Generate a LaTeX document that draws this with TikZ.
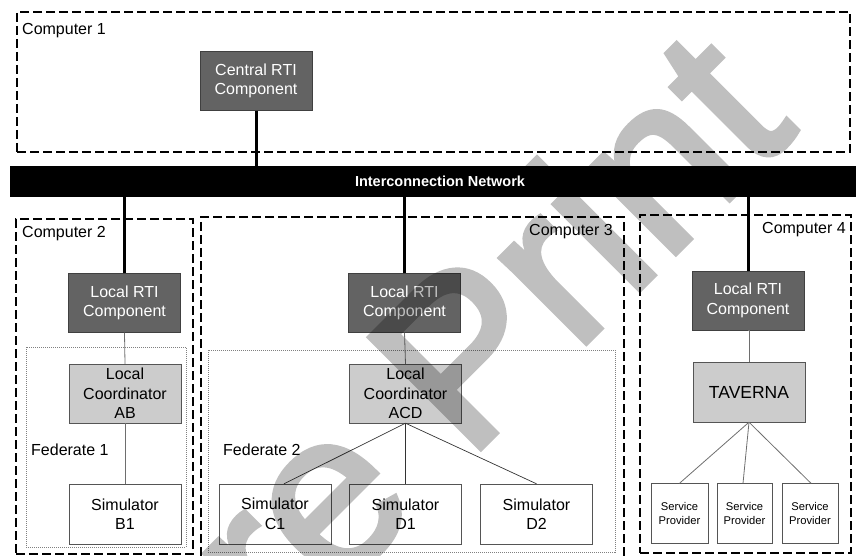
\documentclass[tikz,border=0pt]{standalone}
\usepackage{fontspec}
\setmainfont{Liberation Sans}
\newfontfamily\markfont[FakeBold=2.5]{Liberation Sans}
\definecolor{rtifill}{RGB}{99,99,99}
\definecolor{rtiedge}{RGB}{64,64,64}
\definecolor{coordfill}{RGB}{204,204,204}
\definecolor{boxedge}{RGB}{85,85,85}
\definecolor{linkgray}{RGB}{110,110,110}
\begin{document}
\begin{tikzpicture}[x=1pt,y=-1pt,
  computer/.style={draw, dash pattern=on 9pt off 4pt, line width=1.2pt, inner sep=0pt},
  federate/.style={draw=gray, dash pattern=on 1pt off 1pt, line width=0.9pt, inner sep=0pt},
  base/.style={align=center, inner sep=0pt, font=\fontsize{16}{19.5}\selectfont},
  rti/.style={base, draw=rtiedge, fill=rtifill, text=white, minimum width=112pt, minimum height=59pt},
  coord/.style={base, draw=boxedge, fill=coordfill, minimum width=112pt, minimum height=59pt},
  sim/.style={base, draw=boxedge, fill=white, minimum width=112pt, minimum height=60pt},
  svc/.style={base, draw=boxedge, fill=white, minimum width=56pt, minimum height=60pt, font=\fontsize{11.2}{14}\selectfont},
  lbl/.style={inner sep=0pt, font=\fontsize{16}{19}\selectfont},
  bus/.style={line width=3pt},
  link/.style={draw=linkgray, line width=0.8pt},
  thin/.style={draw=black!80, line width=0.7pt}]
\useasboundingbox (0,0) rectangle (856,556);

% computers
\node[computer, minimum width=833pt, minimum height=140pt] (pc1) at (433.5,82) {};
\node[computer, minimum width=177pt, minimum height=335pt] (pc2) at (104.5,386.5) {};
\node[computer, minimum width=423pt, minimum height=345pt] (pc3) at (412.5,389.5) {};
\node[computer, minimum width=211pt, minimum height=338pt] (pc4) at (745.5,384) {};
\node[lbl, anchor=west] (l1) at (22,31) {Computer 1};
\node[lbl, anchor=west] (l2) at (22,234) {Computer 2};
\node[lbl, anchor=east] (l3) at (613,232) {Computer 3};
\node[lbl, anchor=east] (l4) at (846,230) {Computer 4};

% federations
\node[federate, minimum width=160pt, minimum height=200pt] (fed1) at (106,447) {};
\node[federate, minimum width=407pt, minimum height=202pt] (fed2) at (411.5,451) {};
\node[lbl, anchor=west] (f1) at (31,450) {Federate 1};
\node[lbl, anchor=west] (f2) at (223,450) {Federate 2};

% network bar
\node[fill=black, minimum width=846pt, minimum height=31pt, inner sep=0pt, text=white,
      font=\bfseries\fontsize{14.5}{17}\selectfont] (net) at (433,181.5) {\hspace{14pt}Interconnection Network};

% RTI components
\node[rti] (central) at (256,81) {Central RTI\\Component};
\node[rti] (rti2) at (124.5,303) {Local RTI\\Component};
\node[rti] (rti3) at (404.5,303) {Local RTI\\Component};
\node[rti] (rti4) at (748,300.5) {Local RTI\\Component};

% coordinators
\node[coord] (ab) at (125,393.5) {Local\\Coordinator\\AB};
\node[coord] (acd) at (405.5,393.5) {Local\\Coordinator\\ACD};
\node[coord, minimum height=60pt, font=\fontsize{17.5}{20}\selectfont] (taverna) at (749,392) {TAVERNA};

% simulators
\node[sim] (b1) at (125,514) {Simulator\\B1};
\node[sim] (c1) at (275,514) {Simulator\\C1};
\node[sim] (d1) at (405.5,514) {Simulator\\D1};
\node[sim] (d2) at (536.5,514) {Simulator\\D2};

% service providers
\node[svc, minimum width=57pt] (sp1) at (679.5,513.5) {Service\\Provider};
\node[svc, minimum width=55pt] (sp2) at (744.5,513.5) {Service\\Provider};
\node[svc] (sp3) at (810,513.5) {Service\\Provider};

% network links
\draw[bus] (central.south) -- (central.south |- net.north);
\draw[bus] (rti2.north) -- (rti2.north |- net.south);
\draw[bus] (rti3.north) -- (rti3.north |- net.south);
\draw[bus] (rti4.north) -- (rti4.north |- net.south);

% local links
\draw[link] (rti2.south) -- (ab.north);
\draw[link] (ab.south) -- (b1.north);
\draw[link] (rti3.south) -- (acd.north);
\draw[thin] (acd.south) -- ([xshift=9pt]c1.north);
\draw[thin] (acd.south) -- (d1.north);
\draw[thin] (acd.south) -- (d2.north);
\draw[link] (rti4.south) -- (taverna.south |- rti4.south) -- (taverna.north);
\draw[link] (taverna.south) -- (sp1.north);
\draw[link] (taverna.south) -- ([xshift=-1.5pt]sp2.north);
\draw[link] (taverna.south) -- ([xshift=1pt]sp3.north);

% diagonal watermark
\begin{scope}[transparency group, opacity=0.25]
\node[inner sep=0pt, anchor=base west, rotate=45, text=black,
      font=\markfont\fontsize{228}{228}\selectfont] (wm) at (172,757) {Pre Print};
\end{scope}
\end{tikzpicture}
\end{document}
